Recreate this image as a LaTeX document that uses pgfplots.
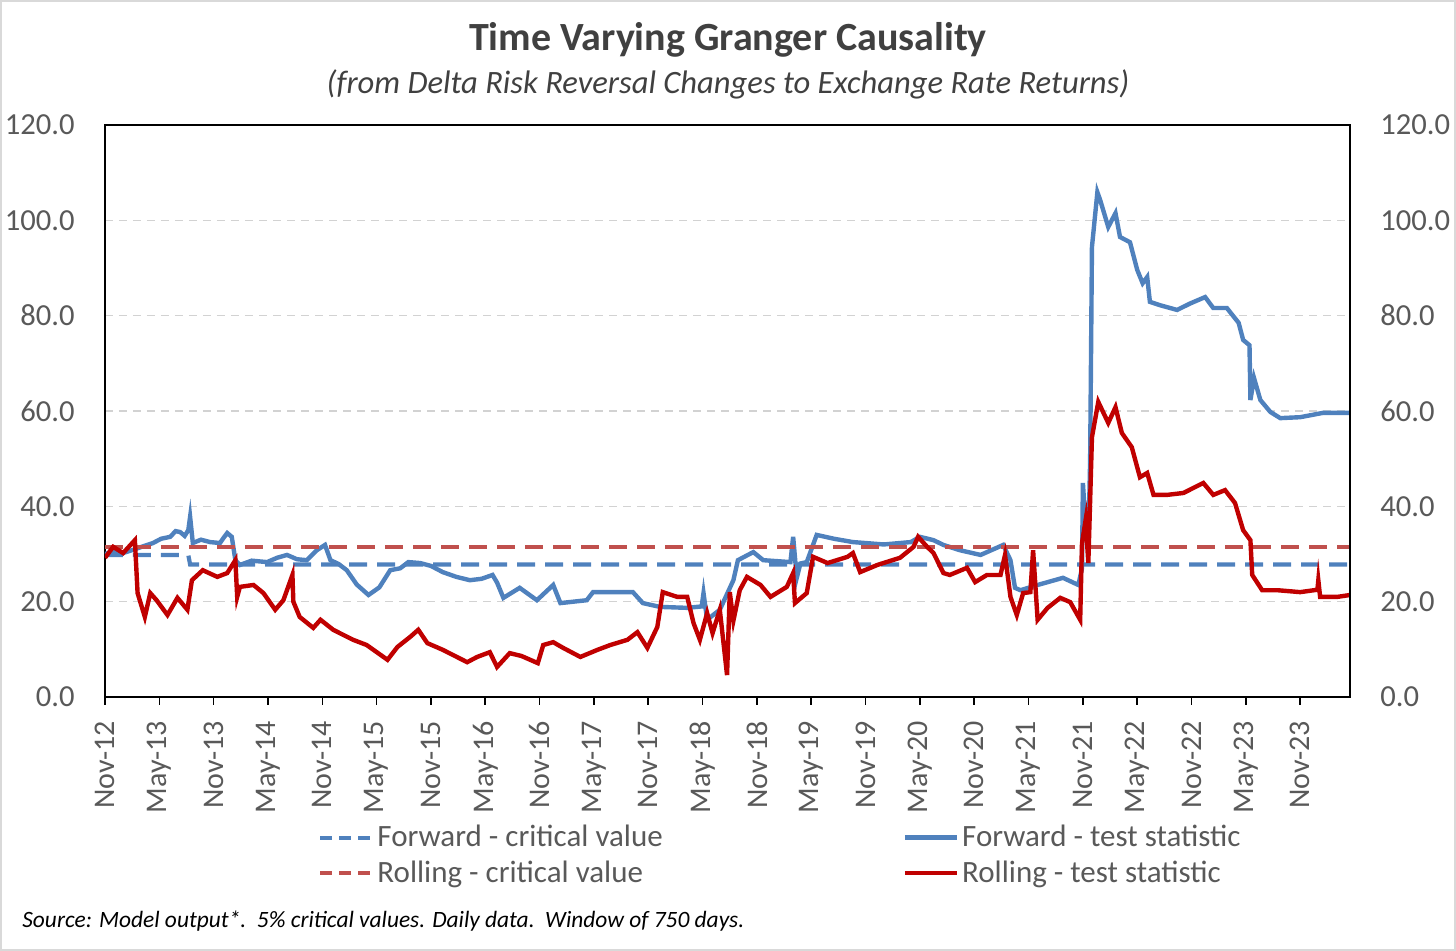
\documentclass[border=0pt]{standalone}
\usepackage{fontspec}
\setmainfont{Carlito}
\usepackage{pgfplots}
\pgfplotsset{compat=1.18}
\usepackage{pgfplotstable}
\definecolor{fblue}{HTML}{4F81BD}
\definecolor{rred}{HTML}{C00000}
\definecolor{rdash}{HTML}{C0504D}
\definecolor{txt}{HTML}{595959}
\definecolor{ttl}{HTML}{404040}

% x = months since Nov-2012
\pgfplotstableread{
x y
0 29.8
9.2 29.8
9.4 27.8
137.5 27.8
}\fcrit
\pgfplotstableread{
x y
0 31.5
137.5 31.5
}\rcrit
\pgfplotstableread{
x y
0 30.0
1.0 30.6
2.0 30.2
3.3 31.0
4.2 31.6
5.3 32.3
6.2 33.2
7.2 33.6
7.8 34.8
8.3 34.6
8.8 33.8
9.2 35.0
9.4 37.8
9.7 32.3
10.6 33.0
11.6 32.5
12.7 32.3
13.1 33.4
13.5 34.4
14.0 33.6
14.4 28.7
14.9 27.7
16.2 28.6
17.9 28.3
19.0 29.2
20.1 29.8
21.2 28.9
22.3 28.7
23.4 30.8
24.3 31.9
24.9 28.7
25.8 27.9
26.7 26.6
27.8 23.6
29.1 21.4
30.3 23.0
31.5 26.6
32.6 27.0
33.5 28.3
34.8 28.1
36.0 27.5
37.3 26.2
38.8 25.2
40.3 24.5
41.6 24.8
42.8 25.6
43.3 24.0
44.0 20.8
45.8 22.9
47.7 20.3
49.5 23.5
50.3 19.7
53.2 20.3
53.9 22.0
58.3 22.0
59.4 19.7
61.3 18.9
64.3 18.7
65.9 19.0
66.1 21.8
66.5 16.2
67.9 18.3
69.4 24.5
69.9 28.7
71.6 30.4
72.7 28.7
75.7 28.3
76.0 33.6
76.4 25.0
76.8 28.0
77.5 28.3
78.6 34.0
80.5 33.2
82.6 32.5
86.0 32.0
89.0 32.5
90.0 33.6
91.5 32.9
92.6 31.9
94.4 30.8
96.7 29.8
99.2 31.9
100.0 28.7
100.5 22.9
101.1 22.4
103.0 23.5
105.8 25.0
107.5 23.5
107.9 27.0
108.0 44.9
108.3 36.0
108.6 32.0
108.8 49.7
109.0 94.4
109.6 105.9
109.9 104.3
110.8 98.6
111.6 101.5
112.1 96.5
113.2 95.4
114.0 89.6
114.6 86.8
115.1 88.1
115.4 82.9
116.5 82.2
118.4 81.2
119.9 82.6
121.5 83.9
122.4 81.6
123.9 81.6
125.2 78.5
125.7 74.9
126.4 73.8
126.5 62.3
126.9 66.9
127.6 62.3
128.7 59.8
129.8 58.5
132.0 58.7
134.5 59.6
137.5 59.6
}\ftest
\pgfplotstableread{
x y
0 29.2
0.9 31.5
2.0 30.2
3.3 32.9
3.6 21.8
4.4 16.8
5.0 21.8
5.7 20.3
6.9 17.2
8.0 20.8
9.1 18.3
9.6 24.5
10.8 26.6
12.4 25.2
13.5 26.0
14.4 28.7
14.6 21.0
14.9 23.1
16.4 23.5
17.5 21.8
18.8 18.3
19.7 20.3
20.7 25.6
20.8 20.0
21.5 16.8
23.0 14.5
23.8 16.2
25.2 14.1
27.4 12.0
28.9 10.9
31.2 7.8
32.3 10.5
33.7 12.6
34.6 14.1
35.6 11.3
37.3 9.9
40.0 7.3
41.1 8.4
42.5 9.4
43.3 6.3
44.7 9.2
46.0 8.6
47.8 7.1
48.4 10.9
49.5 11.5
50.6 10.3
52.5 8.4
54.4 9.9
55.8 10.9
57.7 12.0
58.8 13.6
59.9 10.3
61.0 14.7
61.6 22.0
63.2 21.0
64.3 21.0
65.0 15.5
65.7 12.0
66.5 17.6
67.1 13.4
67.9 18.3
68.7 4.6
69.0 22.0
69.4 16.0
70.1 22.4
70.9 25.2
72.4 23.5
73.5 21.0
75.3 23.1
76.0 26.0
76.2 19.7
77.5 21.8
78.2 29.4
79.8 28.1
82.0 29.4
82.6 30.2
83.4 26.2
85.3 27.7
87.8 29.2
89.3 31.5
89.8 33.6
90.8 31.5
91.5 30.2
92.6 26.0
93.3 25.6
95.2 27.1
96.1 24.1
97.4 25.6
98.9 25.6
99.4 29.8
100.0 21.0
100.7 17.2
101.4 21.8
102.2 22.0
102.5 30.8
103.0 16.2
104.1 18.7
105.5 20.8
106.6 19.9
107.7 16.2
107.9 32.3
108.3 37.1
108.6 28.1
109.0 54.5
109.7 61.9
110.8 57.5
111.6 60.8
112.3 55.4
113.4 52.4
114.3 46.1
115.1 47.0
115.8 42.4
117.3 42.4
119.1 42.8
121.3 44.9
122.4 42.4
123.7 43.4
124.8 40.7
125.7 35.0
126.5 32.9
126.7 25.6
127.8 22.4
129.5 22.4
132.0 22.0
133.9 22.5
134.0 24.5
134.2 21.0
136.1 21.0
137.5 21.4
}\rtest

\begin{document}
\begin{tikzpicture}
\path[use as bounding box] (-52.5pt,-127pt) rectangle (675.5pt,348.5pt);
\draw[gray!30, line width=1pt] (-52pt,-126.5pt) rectangle (675pt,348pt);
\node[text=ttl, font=\fontsize{20}{24}\selectfont\bfseries] at (311.5pt,328.5pt) {Time Varying Granger Causality};
\node[text=ttl, font=\fontsize{16.3}{19}\selectfont\itshape] at (311.5pt,306.5pt) {(from Delta Risk Reversal Changes to Exchange Rate Returns)};
\node[text=black, font=\fontsize{11.7}{14}\selectfont\itshape, anchor=west, inner sep=0pt] at (-41.5pt,-112pt) {Source: Model output*.\ \ 5\% critical values. Daily data.\ \ Window of 750 days.};

\begin{axis}[
  at={(0,0)}, anchor=south west,
  scale only axis, width=622.5pt, height=286pt,
  xmin=0, xmax=137.5, ymin=0, ymax=120,
  axis line style={black, line width=0.8pt},
  xtick={0,6,...,132},
  xticklabels={Nov-12,May-13,Nov-13,May-14,Nov-14,May-15,Nov-15,May-16,Nov-16,May-17,Nov-17,May-18,Nov-18,May-19,Nov-19,May-20,Nov-20,May-21,Nov-21,May-22,Nov-22,May-23,Nov-23},
  xtick pos=bottom, xtick align=outside,
  xtick style={black, line width=0.8pt},
  major tick length=4pt,
  xticklabel style={rotate=90, anchor=east, font=\fontsize{15}{18}\selectfont, text=txt, inner sep=0pt},
  xticklabel shift=8pt,
  ytick={0,20,...,120}, ytick pos=left,
  ytick style={draw=none},
  yticklabel style={font=\fontsize{15.3}{18}\selectfont, text=txt, inner sep=0pt},
  yticklabel shift=15pt,
  /pgf/number format/.cd, fixed, fixed zerofill, precision=1, assume math mode=true, /pgfplots/.cd,
  ymajorgrids,
  grid style={gray!35, line width=0.6pt, dash pattern=on 4pt off 3pt},
  legend columns=2,
  legend cell align=left,
  legend style={at={(0.1663,-0.2115)}, anchor=north west, draw=none, fill=none,
    font=\fontsize{15.5}{18}\selectfont, text=txt, row sep=2.5pt,
    nodes={inner sep=1.5pt},
    /tikz/every even column/.append style={column sep=118.5pt}},
  legend image code/.code={\draw[#1] (0pt,0pt) -- (26pt,0pt);},
]
\addplot[fblue, line width=2.1pt, dash pattern=on 9pt off 5pt,
  legend image code/.code={\draw[fblue, line width=2pt, dash pattern=on 6pt off 3.5pt] (0pt,0pt) -- (26pt,0pt);}] table {\fcrit};
\addlegendentry{Forward - critical value}
\addplot[fblue, line width=2.2pt] table {\ftest};
\addlegendentry{Forward - test statistic}
\addplot[rdash, line width=2.1pt, dash pattern=on 9pt off 5pt,
  legend image code/.code={\draw[rdash, line width=2pt, dash pattern=on 6pt off 3.5pt] (0pt,0pt) -- (26pt,0pt);}] table {\rcrit};
\addlegendentry{Rolling - critical value}
\addplot[rred, line width=2.2pt] table {\rtest};
\addlegendentry{Rolling - test statistic}
\end{axis}

\begin{axis}[
  at={(0,0)}, anchor=south west,
  scale only axis, width=622.5pt, height=286pt,
  xmin=0, xmax=137.5, ymin=0, ymax=120,
  axis x line=none, axis y line*=right,
  axis line style={black, line width=0.8pt},
  ytick={0,20,...,120},
  ytick style={draw=none},
  yticklabel style={font=\fontsize{15.3}{18}\selectfont, text=txt, inner sep=0pt},
  yticklabel shift=15pt,
  /pgf/number format/.cd, fixed, fixed zerofill, precision=1, assume math mode=true, /pgfplots/.cd,
]
\end{axis}
\end{tikzpicture}
\end{document}
